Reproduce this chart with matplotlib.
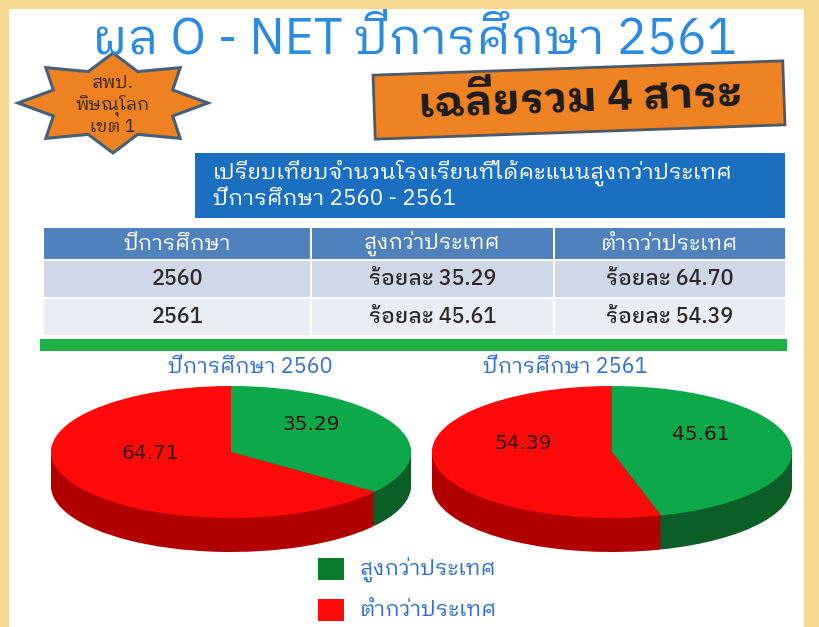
import matplotlib

matplotlib.use("Agg")
import matplotlib.pyplot as plt
import numpy as np
from matplotlib.patches import Polygon, Rectangle

THAI = ["IBM Plex Sans Thai Looped", "Noto Sans Thai Looped", "DejaVu Sans"]

title = "ผล O - NET ปีการศึกษา 2561"
badge_lines = ["สพป.", "พิษณุโลก", "เขต 1"]
banner = "เฉลี่ยรวม 4 สาระ"
box_lines = ["เปรียบเทียบจำนวนโรงเรียนที่ได้คะแนนสูงกว่าประเทศ", "ปีการศึกษา 2560 - 2561"]

header = ["ปีการศึกษา", "สูงกว่าประเทศ", "ต่ำกว่าประเทศ"]
years = ["2560", "2561"]
above = [35.29, 45.61]
below_table = [64.70, 54.39]

pie_titles = ["ปีการศึกษา 2560", "ปีการศึกษา 2561"]
pie_above = [35.29, 45.61]
pie_below = [64.71, 54.39]
legend_labels = ["สูงกว่าประเทศ", "ต่ำกว่าประเทศ"]

GREEN, GREEN_SIDE = "#0ca84a", "#0b5e26"
RED, RED_SIDE = "#ff0a0a", "#b00000"

fig = plt.figure(figsize=(8.2, 6.27), dpi=100)
fig.patch.set_facecolor("#f6d893")
ax = fig.add_axes([0, 0, 1, 1])
ax.set_xlim(0, 820)
ax.set_ylim(627, 0)
ax.axis("off")

# white page inside the yellow frame
ax.add_patch(Rectangle((9, 9), 795, 640, facecolor="white", edgecolor="none"))

ax.text(414, 39, title, ha="center", va="center", fontsize=36, color="#2b8be0", family=THAI)

# star badge
cx, cy = 113, 103
ang = np.deg2rad(90 - np.arange(16) * 22.5)
rad = np.where(np.arange(16) % 2 == 0, 1.0, 0.68)
star = np.column_stack([cx + 95 * rad * np.cos(ang), cy - 50 * rad * np.sin(ang)])
ax.add_patch(Polygon(star, closed=True, facecolor="#ee8120", edgecolor="#45607a", lw=2.2))
ax.text(cx, cy + 2, "\n".join(badge_lines), ha="center", va="center", fontsize=13,
        color="#3a2a1a", family=THAI, linespacing=1.15)

# orange banner, slightly tilted
ax.add_patch(Rectangle((374, 68), 410, 64, angle=-2, rotation_point="center",
                       facecolor="#ef8222", edgecolor="#4b5a66", lw=2))
ax.text(580, 100, banner, ha="center", va="center", fontsize=31, fontweight="bold",
        color="#1c1c1c", rotation=2, family=THAI)

# blue heading box
ax.add_patch(Rectangle((195, 153), 590, 65, facecolor="#1a6fc1", edgecolor="none"))
for i, line in enumerate(box_lines):
    ax.text(213, 173 + i * 26, line, ha="left", va="center", fontsize=16, color="white", family=THAI)

# table
col_x = [43, 311, 554, 786]
row_y = [227, 260, 298, 336]
row_bg = ["#4f81bd", "#d0d8e8", "#e9edf4"]
for r in range(3):
    for c in range(3):
        ax.add_patch(Rectangle((col_x[c] + 1, row_y[r] + 1), col_x[c + 1] - col_x[c] - 2,
                               row_y[r + 1] - row_y[r] - 2, facecolor=row_bg[r], edgecolor="none"))
rows = [header] + [[y, "ร้อยละ %.2f" % a, "ร้อยละ %.2f" % b] for y, a, b in zip(years, above, below_table)]
for r, row in enumerate(rows):
    for c, txt in enumerate(row):
        ax.text((col_x[c] + col_x[c + 1]) / 2, (row_y[r] + row_y[r + 1]) / 2, txt,
                ha="center", va="center", fontsize=15.5, family=THAI,
                color="white" if r == 0 else "#2a2a2a", fontweight="normal" if r == 0 else "medium")
ax.add_patch(Rectangle((40, 339), 747, 12, facecolor="#1fae48", edgecolor="none"))

# 3-D looking pies
pie_cx = [231, 612]
title_x = [250, 565]
rx, ry, depth = 180, 66, 34
for k in range(2):
    ax.text(title_x[k], 367, pie_titles[k], ha="center", va="center", fontsize=15.5,
            color="#2f6fcf", family=THAI)
    pax = fig.add_axes([(pie_cx[k] - rx) / 820, 1 - (452 + ry + depth) / 627,
                        2 * rx / 820, (2 * ry + depth) / 627])
    pax.axis("off")
    vals = [pie_above[k], pie_below[k]]
    d = depth / ry
    for s in np.linspace(d, 0.02, 18):
        pax.pie(vals, colors=[GREEN_SIDE, RED_SIDE], startangle=90, counterclock=False,
                center=(0, -s), radius=1, wedgeprops=dict(linewidth=0))
    _, texts = pax.pie(vals, colors=[GREEN, RED], startangle=90, counterclock=False,
                       labels=["%.2f" % v for v in vals], labeldistance=0.5,
                       wedgeprops=dict(linewidth=0),
                       textprops=dict(fontsize=14.5, color="#3a1414", ha="center", va="center"))
    for t in texts:
        x, y = t.get_position()
        t.set_position((x, y + 0.2))
    pax.set_xlim(-1, 1)
    pax.set_ylim(-1 - d, 1)
    pax.set_aspect("auto")

# legend
for i, (lab, col) in enumerate(zip(legend_labels, ["#0a7d2c", "#ff0a0a"])):
    y0 = 558 + i * 41
    ax.add_patch(Rectangle((318, y0), 26, 22, facecolor=col, edgecolor="none"))
    ax.text(360, y0 + 11, lab, ha="left", va="center", fontsize=15.5, color="#2f6fcf", family=THAI)

fig.savefig("out.png", dpi=100)
